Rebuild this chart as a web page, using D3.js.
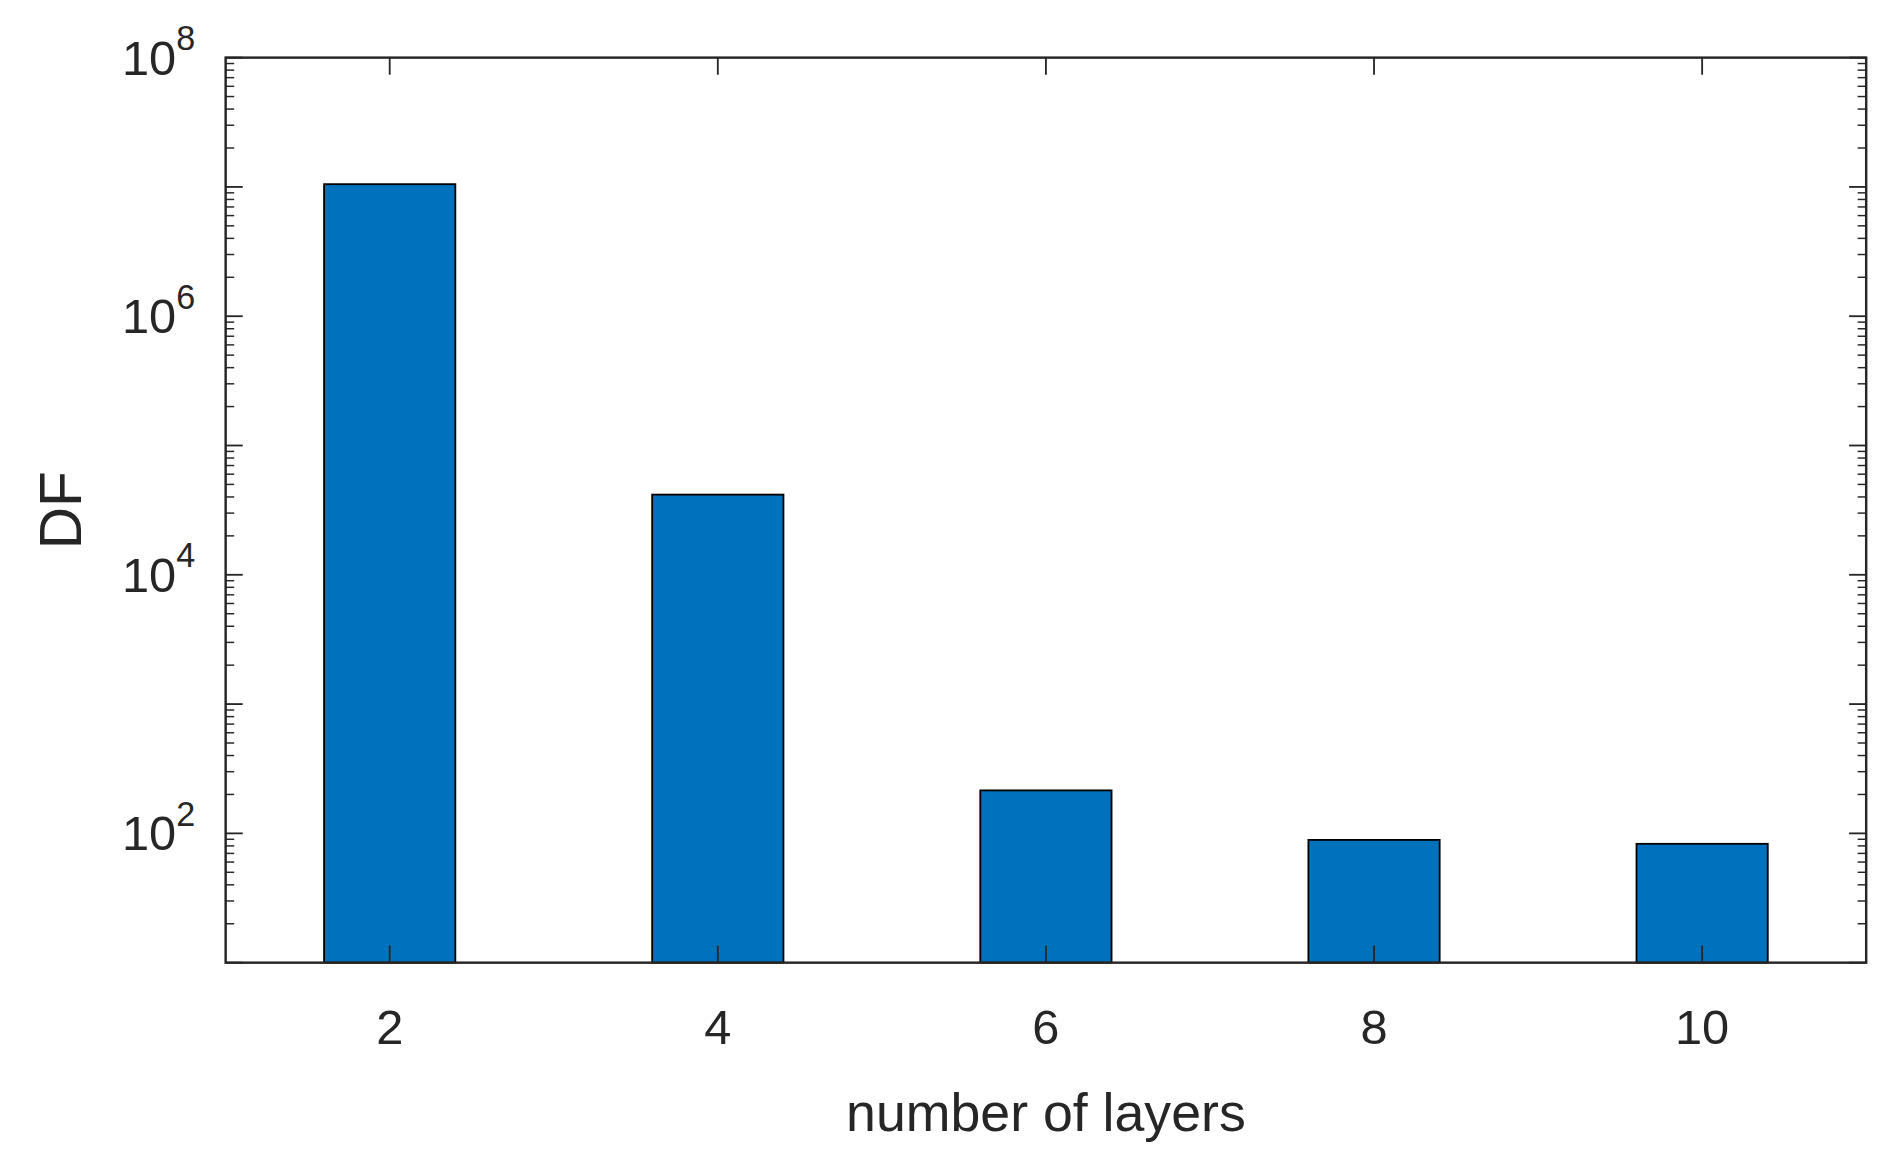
<!DOCTYPE html>
<html><head><meta charset="utf-8">
<script src="https://cdn.jsdelivr.net/npm/d3@7"></script>
<style>body{margin:0;background:#fff}</style></head>
<body><svg id="c" width="1904" height="1163" viewBox="0 0 1561 953"></svg>
<script>
const categories = [2, 4, 6, 8, 10];
const values = [1.05e7, 41700, 215, 89, 83];
const yTicks = [1e2, 1e4, 1e6, 1e8];
const yExps = ["2", "4", "6", "8"];

const svg = d3.select("#c");
const L = 185, R = 1530, T = 47, B = 789;
const x = d3.scaleLinear().domain([1, 11]).range([L, R]);
const y = d3.scaleLog().domain([10, 1e8]).range([B, T]);
const font = "'Liberation Sans', Arial, sans-serif";
const col = "#262626";

svg.selectAll("rect.bar").data(categories).enter().append("rect")
  .attr("x", d => x(d - 0.4)).attr("width", d => x(d + 0.4) - x(d - 0.4))
  .attr("y", (d, i) => y(values[i])).attr("height", (d, i) => B - y(values[i]))
  .attr("fill", "#0072bd").attr("stroke", "#000").attr("stroke-width", 1.5);

const g = svg.append("g");
g.append("rect").attr("x", L).attr("y", T).attr("width", R - L).attr("height", B - T)
  .attr("fill", "none").attr("stroke", col).attr("stroke-width", 2);

const minor = [];
for (let e = 1; e < 8; e++) for (let k = 2; k <= 9; k++) minor.push(k * Math.pow(10, e));
const major = d3.range(1, 9).map(e => Math.pow(10, e));
const tk = 14, mk = 7;
major.forEach(v => {
  g.append("line").attr("x1", L).attr("x2", L + tk).attr("y1", y(v)).attr("y2", y(v)).attr("stroke", col).attr("stroke-width", 1.5);
  g.append("line").attr("x1", R).attr("x2", R - tk).attr("y1", y(v)).attr("y2", y(v)).attr("stroke", col).attr("stroke-width", 1.5);
});
minor.forEach(v => {
  g.append("line").attr("x1", L).attr("x2", L + mk).attr("y1", y(v)).attr("y2", y(v)).attr("stroke", col).attr("stroke-width", 1.2);
  g.append("line").attr("x1", R).attr("x2", R - mk).attr("y1", y(v)).attr("y2", y(v)).attr("stroke", col).attr("stroke-width", 1.2);
});
categories.forEach(c => {
  g.append("line").attr("x1", x(c)).attr("x2", x(c)).attr("y1", B).attr("y2", B - tk).attr("stroke", col).attr("stroke-width", 1.5);
  g.append("line").attr("x1", x(c)).attr("x2", x(c)).attr("y1", T).attr("y2", T + tk).attr("stroke", col).attr("stroke-width", 1.5);
  g.append("text").attr("x", x(c)).attr("y", 856).attr("text-anchor", "middle")
    .attr("font-family", font).attr("font-size", 40).attr("fill", col).text(c);
});
yTicks.forEach((v, i) => {
  const t = g.append("text").attr("x", 160).attr("y", y(v) + 14).attr("text-anchor", "end")
    .attr("font-family", font).attr("font-size", 40).attr("fill", col);
  t.append("tspan").text("10");
  t.append("tspan").attr("dy", -20).attr("font-size", 28).text(yExps[i]);
});
svg.append("text").attr("x", (L + R) / 2).attr("y", 927).attr("text-anchor", "middle")
  .attr("font-family", font).attr("font-size", 44).attr("fill", col).text("number of layers");
svg.append("text").attr("transform", `translate(66,${(T + B) / 2}) rotate(-90)`).attr("text-anchor", "middle")
  .attr("font-family", font).attr("font-size", 48).attr("fill", col).text("DF");
</script></body></html>
